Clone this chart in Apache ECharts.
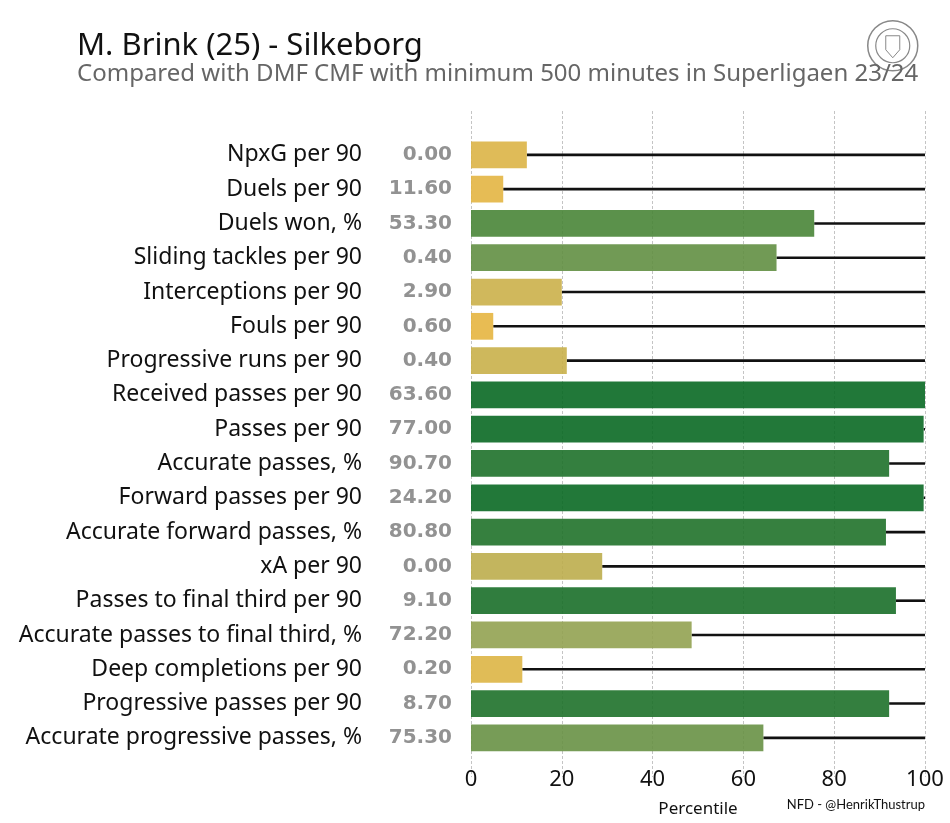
<!DOCTYPE html>
<html>
<head>
<meta charset="utf-8">
<script src="https://cdn.jsdelivr.net/npm/echarts@6/dist/echarts.min.js"></script>
<style>
  html, body { margin: 0; padding: 0; background: #fff; }
  #chart { width: 950px; height: 823px; }
</style>
</head>
<body>
<div id="chart"></div>
<script>
// metric names, top to bottom
const metrics = [
    'NpxG per 90', 'Duels per 90', 'Duels won, %', 'Sliding tackles per 90',
    'Interceptions per 90', 'Fouls per 90', 'Progressive runs per 90',
    'Received passes per 90', 'Passes per 90', 'Accurate passes, %',
    'Forward passes per 90', 'Accurate forward passes, %', 'xA per 90',
    'Passes to final third per 90', 'Accurate passes to final third, %',
    'Deep completions per 90', 'Progressive passes per 90',
    'Accurate progressive passes, %'
];
// raw values shown next to the names
const rawValues = [
    '0.00', '11.60', '53.30', '0.40', '2.90', '0.60', '0.40', '63.60', '77.00',
    '90.70', '24.20', '80.80', '0.00', '9.10', '72.20', '0.20', '8.70', '75.30'
];
// percentile of each metric
const percentiles = [
    12.3, 7.1, 75.6, 67.3, 20.0, 4.9, 21.1, 100, 99.7,
    92.1, 99.7, 91.4, 28.9, 93.6, 48.6, 11.3, 92.1, 64.4
];
const xTicks = [0, 20, 40, 60, 80, 100];

const FONT = 'Noto Sans';

// colour ramp: low = yellow, high = green (colours as seen on white)
const colorStops = [
    [0, '#eebd50'], [12, '#e0bc58'], [20, '#d0b85c'], [29, '#c3b55f'],
    [48, '#9eac63'], [64, '#789c58'], [68, '#709a55'], [76, '#5a914a'],
    [92, '#357f3f'], [100, '#22783a']
];
const hexToRgb = h => [1, 3, 5].map(i => parseInt(h.substr(i, 2), 16));
const ALPHA = 0.9;
function pctColor(p) {
    let i = 0;
    while (i < colorStops.length - 2 && p > colorStops[i + 1][0]) i++;
    const [p0, c0] = colorStops[i], [p1, c1] = colorStops[i + 1];
    const t = Math.max(0, Math.min(1, (p - p0) / (p1 - p0)));
    const a = hexToRgb(c0), b = hexToRgb(c1);
    // undo the alpha so the bar looks like the sampled colour over white
    const rgb = a.map((v, k) => {
        const seen = v + (b[k] - v) * t;
        return Math.round(Math.max(0, (seen - 255 * (1 - ALPHA)) / ALPHA));
    });
    return `rgba(${rgb[0]},${rgb[1]},${rgb[2]},${ALPHA})`;
}

const chart = echarts.init(document.getElementById('chart'));

const option = {
    backgroundColor: '#fff',
    animation: false,
    title: {
        text: 'M. Brink (25) - Silkeborg',
        subtext: 'Compared with DMF CMF with minimum 500 minutes in Superligaen 23/24',
        left: 72,
        top: 26,
        itemGap: 0,
        textStyle: { fontFamily: FONT, fontSize: 31, fontWeight: 'normal', color: '#111' },
        subtextStyle: { fontFamily: FONT, fontSize: 24, color: '#666' }
    },
    grid: [
        { left: 471, right: 25, top: 137.7, bottom: 63.7 },
        { left: 471, right: 25, top: 111, bottom: 46 }
    ],
    xAxis: [
        {
            type: 'value', gridIndex: 0, min: 0, max: 100, interval: 20,
            axisLine: { show: false }, axisTick: { show: false },
            splitLine: { show: false },
            axisLabel: { fontFamily: FONT, fontSize: 22, color: '#111', margin: 14,
                formatter: v => xTicks.includes(v) ? String(v) : '' },
            name: 'Percentile', nameLocation: 'middle', nameGap: 46,
            nameTextStyle: { fontFamily: FONT, fontSize: 17, color: '#111' }
        },
        {
            type: 'value', gridIndex: 1, min: 0, max: 100, interval: 20,
            axisLine: { show: false }, axisTick: { show: false },
            axisLabel: { show: false },
            splitLine: { show: true, lineStyle: { color: '#c4c4c4', type: [3, 2], width: 1 } }
        }
    ],
    yAxis: [
        {
            type: 'category', gridIndex: 0, data: metrics, inverse: true,
            axisLine: { show: false }, axisTick: { show: false },
            axisLabel: {
                margin: 19,
                formatter: (v, i) => `{a|${v}}{b|${rawValues[i]}}`,
                rich: {
                    a: { fontFamily: FONT, fontSize: 23, color: '#111', align: 'right' },
                    b: { fontFamily: 'DejaVu Sans', fontSize: 20, fontWeight: 'bold', color: '#929292',
                         width: 90, align: 'right' }
                }
            }
        },
        { type: 'value', gridIndex: 1, show: false, min: 0, max: 1 }
    ],
    series: [
        {
            type: 'custom',
            xAxisIndex: 0, yAxisIndex: 0,
            z: 1,
            data: percentiles.map((p, i) => [p, i]),
            renderItem: (params, api) => {
                const idx = api.value(1);
                const from = api.coord([api.value(0), idx]);
                const to = api.coord([100, idx]);
                return {
                    type: 'line',
                    shape: { x1: from[0], y1: from[1], x2: to[0], y2: to[1] },
                    style: { stroke: '#111', lineWidth: 2.6 }
                };
            }
        },
        {
            type: 'bar',
            xAxisIndex: 0, yAxisIndex: 0,
            z: 2,
            barCategoryGap: '22%',
            data: percentiles.map(p => ({ value: p, itemStyle: { color: pctColor(p) } }))
        }
    ],
    graphic: [
        {
            type: 'text', right: 25, top: 798,
            style: { text: 'NFD - @HenrikThustrup', font: '13px Lato', fill: '#111' }
        },
        {
            type: 'group', left: 867, top: 20,
            children: [
                { type: 'circle', shape: { cx: 26, cy: 27, r: 25 },
                  style: { fill: '#fff', stroke: '#888', lineWidth: 1.5 } },
                { type: 'circle', shape: { cx: 26, cy: 27, r: 17 },
                  style: { fill: 'none', stroke: '#888', lineWidth: 1.2 } },
                { type: 'polygon', shape: { points: [[19, 17], [33, 17], [33, 31], [26, 39], [19, 31]] },
                  style: { fill: 'none', stroke: '#888', lineWidth: 1 } }
            ]
        }
    ]
};

chart.setOption(option);
</script>
</body>
</html>
